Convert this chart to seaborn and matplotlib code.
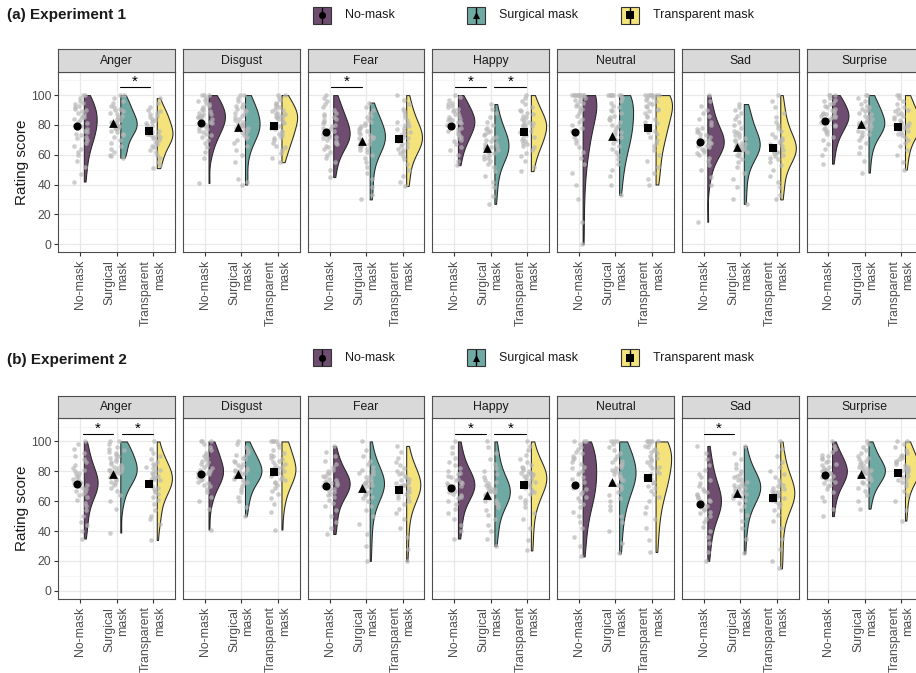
import numpy as np
import pandas as pd
import matplotlib
matplotlib.use("Agg")
import matplotlib.pyplot as plt
import matplotlib.transforms as mtransforms
from matplotlib.patches import Rectangle
import seaborn as sns

sns.set_theme(style="white")
plt.rcParams["font.family"] = ["Liberation Sans", "DejaVu Sans"]

# ---------------------------------------------------------------- categories
conditions = ["No-mask", "Surgical mask", "Transparent mask"]
tick_labels = ["No-mask", "Surgical\nmask", "Transparent\nmask"]
emotions = ["Anger", "Disgust", "Fear", "Happy", "Neutral", "Sad", "Surprise"]
palette = {"No-mask": "#6E4D70", "Surgical mask": "#6FA9A3", "Transparent mask": "#F4E37A"}
markers = ["o", "^", "s"]
marker_sizes = [34, 40, 30]

# ---------------------------------------------------------------- Experiment 1 ratings
exp1_anger = {
    "No-mask": [42, 47, 52, 56, 60, 62, 64, 66, 68, 70, 71, 72, 73, 74, 75, 76, 77, 78, 79, 80,
                81, 82, 83, 84, 85, 85, 86, 87, 88, 89, 90, 91, 92, 93, 94, 95, 96, 98, 100, 100],
    "Surgical mask": [58, 59, 60, 62, 64, 66, 68, 70, 72, 73, 74, 75, 76, 77, 78, 78, 79, 79, 80, 80,
                      81, 81, 82, 82, 83, 84, 85, 86, 87, 88, 89, 90, 91, 92, 93, 95, 96, 98, 100, 100],
    "Transparent mask": [51, 53, 55, 58, 60, 62, 63, 65, 66, 67, 68, 69, 70, 71, 72, 72, 73, 73, 74, 74,
                         75, 75, 76, 77, 78, 79, 80, 81, 82, 83, 84, 85, 86, 87, 88, 89, 90, 92, 95, 98],
}
exp1_disgust = {
    "No-mask": [41, 58, 62, 65, 68, 70, 72, 73, 74, 75, 76, 77, 78, 79, 80, 81, 82, 83, 84, 84,
                85, 85, 86, 86, 87, 87, 88, 89, 90, 91, 92, 93, 94, 95, 96, 97, 98, 100, 100, 100],
    "Surgical mask": [40, 42, 44, 55, 60, 63, 66, 68, 70, 71, 72, 73, 74, 75, 76, 77, 78, 78, 79, 79,
                      80, 80, 81, 82, 83, 84, 85, 86, 87, 88, 89, 90, 91, 92, 93, 94, 96, 98, 100, 100],
    "Transparent mask": [55, 58, 61, 63, 65, 66, 68, 70, 71, 72, 73, 74, 75, 76, 77, 78, 79, 80, 81, 82,
                         83, 84, 85, 85, 86, 86, 87, 87, 88, 89, 90, 91, 92, 93, 94, 95, 97, 98, 100, 100],
}
exp1_fear = {
    "No-mask": [45, 50, 55, 58, 60, 62, 64, 65, 66, 67, 68, 69, 70, 71, 72, 72, 73, 73, 74, 74,
                75, 76, 77, 78, 79, 80, 81, 82, 83, 84, 85, 86, 87, 88, 90, 92, 94, 96, 98, 100],
    "Surgical mask": [30, 33, 38, 44, 48, 52, 55, 58, 60, 62, 63, 64, 65, 66, 67, 68, 69, 70, 70, 71,
                      71, 72, 72, 73, 74, 75, 76, 77, 78, 79, 80, 81, 82, 83, 85, 86, 88, 90, 92, 95],
    "Transparent mask": [39, 42, 46, 50, 54, 57, 59, 61, 62, 63, 64, 65, 66, 67, 68, 69, 70, 70, 71, 71,
                         72, 72, 73, 74, 75, 76, 77, 78, 79, 80, 81, 82, 83, 85, 87, 89, 91, 94, 97, 100],
}
exp1_happy = {
    "No-mask": [53, 56, 60, 63, 65, 67, 69, 70, 71, 72, 73, 74, 75, 76, 77, 78, 79, 80, 80, 81,
                82, 82, 83, 83, 84, 84, 85, 86, 87, 88, 89, 90, 91, 92, 93, 94, 95, 97, 99, 100],
    "Surgical mask": [27, 32, 38, 42, 46, 49, 52, 54, 56, 57, 58, 59, 60, 61, 62, 63, 64, 64, 65, 65,
                      66, 66, 67, 68, 69, 70, 71, 72, 73, 74, 75, 76, 77, 78, 80, 82, 85, 88, 91, 94],
    "Transparent mask": [49, 52, 56, 59, 61, 63, 65, 66, 67, 68, 69, 70, 71, 72, 73, 74, 75, 76, 77, 78,
                         79, 79, 80, 80, 81, 81, 82, 83, 84, 85, 86, 87, 88, 89, 90, 92, 94, 96, 98, 100],
}
exp1_neutral = {
    "No-mask": [0, 15, 30, 40, 48, 54, 58, 62, 65, 68, 70, 72, 74, 76, 78, 80, 82, 84, 86, 88,
                90, 91, 92, 93, 94, 95, 96, 97, 98, 99, 100, 100, 100, 100, 100, 100, 100, 100, 100, 100],
    "Surgical mask": [33, 40, 46, 50, 54, 57, 60, 62, 64, 66, 68, 70, 71, 72, 74, 75, 76, 78, 79, 80,
                      82, 83, 84, 85, 86, 88, 89, 90, 92, 93, 95, 96, 98, 100, 100, 100, 100, 100, 100, 100],
    "Transparent mask": [40, 44, 48, 52, 56, 60, 63, 66, 68, 70, 72, 74, 75, 76, 78, 80, 81, 82, 84, 85,
                         86, 88, 89, 90, 91, 92, 93, 94, 95, 96, 97, 98, 99, 100, 100, 100, 100, 100, 100, 100],
}
exp1_sad = {
    "No-mask": [15, 40, 45, 50, 53, 56, 58, 60, 61, 62, 63, 64, 65, 66, 66, 67, 67, 68, 68, 69,
                69, 70, 70, 71, 72, 73, 74, 75, 76, 77, 78, 80, 82, 84, 86, 88, 90, 93, 96, 100],
    "Surgical mask": [27, 30, 38, 44, 48, 52, 55, 57, 59, 60, 61, 62, 63, 64, 64, 65, 65, 66, 66, 67,
                      67, 68, 69, 70, 71, 72, 73, 74, 75, 76, 78, 80, 82, 84, 86, 88, 90, 92, 94],
    "Transparent mask": [30, 33, 38, 42, 46, 50, 53, 55, 57, 58, 59, 60, 61, 62, 62, 63, 63, 64, 64, 65,
                         65, 66, 67, 68, 69, 70, 71, 72, 74, 76, 78, 80, 82, 85, 88, 92, 96, 100],
}
exp1_surprise = {
    "No-mask": [54, 60, 64, 67, 70, 72, 74, 75, 76, 77, 78, 79, 80, 81, 82, 83, 84, 84, 85, 85,
                86, 86, 87, 87, 88, 88, 89, 90, 91, 92, 93, 94, 95, 96, 97, 98, 100, 100, 100],
    "Surgical mask": [48, 56, 61, 65, 68, 70, 72, 73, 74, 75, 76, 77, 78, 79, 79, 80, 80, 81, 81, 82,
                      82, 83, 84, 85, 86, 87, 88, 89, 90, 91, 92, 93, 94, 96, 98, 100, 100],
    "Transparent mask": [50, 55, 60, 63, 66, 68, 70, 72, 73, 74, 75, 76, 77, 78, 78, 79, 79, 80, 80, 81,
                         81, 82, 83, 84, 85, 86, 87, 88, 89, 90, 91, 92, 94, 96, 98, 100, 100],
}

# ---------------------------------------------------------------- Experiment 2 ratings
exp2_anger = {
    "No-mask": [35, 40, 44, 46, 50, 54, 57, 59, 61, 63, 64, 65, 66, 67, 68, 69, 70, 71, 71, 72,
                72, 73, 73, 74, 75, 76, 77, 78, 79, 80, 81, 82, 84, 86, 88, 90, 92, 95, 98, 100],
    "Surgical mask": [39, 55, 60, 64, 67, 69, 71, 72, 73, 74, 75, 76, 77, 78, 79, 79, 80, 80, 81, 81,
                      82, 82, 83, 84, 85, 86, 87, 88, 89, 90, 91, 92, 93, 94, 95, 96, 98, 100, 100],
    "Transparent mask": [34, 45, 48, 50, 54, 58, 61, 63, 65, 66, 67, 68, 69, 70, 71, 72, 73, 74, 74, 75,
                         75, 76, 76, 77, 78, 79, 80, 81, 82, 83, 84, 85, 86, 88, 90, 92, 95, 100],
}
exp2_disgust = {
    "No-mask": [41, 55, 60, 63, 66, 68, 70, 71, 72, 73, 74, 75, 76, 77, 78, 78, 79, 79, 80, 80,
                81, 82, 83, 84, 85, 86, 87, 88, 89, 90, 91, 92, 94, 96, 98, 100, 100, 100],
    "Surgical mask": [50, 56, 60, 63, 66, 68, 70, 72, 73, 74, 75, 76, 77, 78, 78, 79, 79, 80, 80, 81,
                      81, 82, 83, 84, 85, 86, 87, 88, 89, 90, 91, 92, 94, 96, 98, 100],
    "Transparent mask": [41, 53, 58, 62, 65, 67, 69, 71, 72, 73, 74, 75, 76, 77, 78, 79, 80, 80, 81, 81,
                         82, 82, 83, 84, 85, 86, 87, 88, 89, 90, 91, 92, 94, 96, 98, 100, 100, 100, 100],
}
exp2_fear = {
    "No-mask": [38, 42, 46, 50, 54, 57, 59, 61, 63, 64, 65, 66, 67, 68, 69, 70, 70, 71, 71, 72,
                72, 73, 73, 74, 75, 76, 77, 78, 79, 80, 81, 83, 85, 87, 90, 93, 97],
    "Surgical mask": [20, 30, 38, 45, 50, 54, 57, 60, 62, 63, 64, 65, 66, 67, 68, 69, 70, 71, 71, 72,
                      72, 73, 73, 74, 75, 76, 77, 78, 79, 80, 81, 83, 85, 87, 90, 94, 100],
    "Transparent mask": [20, 28, 36, 42, 48, 52, 55, 58, 60, 62, 63, 64, 65, 66, 67, 68, 69, 70, 70, 71,
                         71, 72, 72, 73, 74, 75, 76, 77, 78, 79, 80, 82, 84, 86, 89, 93, 97],
}
exp2_happy = {
    "No-mask": [35, 40, 44, 48, 52, 55, 58, 60, 62, 63, 64, 65, 66, 67, 68, 69, 70, 70, 71, 71,
                72, 72, 73, 74, 75, 76, 77, 78, 79, 80, 82, 84, 86, 89, 92, 96, 100],
    "Surgical mask": [30, 35, 40, 44, 48, 51, 54, 56, 58, 59, 60, 61, 62, 63, 64, 65, 66, 66, 67, 67,
                      68, 68, 69, 70, 71, 72, 73, 74, 76, 78, 80, 82, 85, 88, 92, 96, 100],
    "Transparent mask": [27, 34, 42, 48, 52, 56, 59, 61, 63, 65, 66, 67, 68, 69, 70, 71, 72, 73, 74, 75,
                         76, 77, 77, 78, 78, 79, 79, 80, 81, 82, 83, 84, 86, 88, 91, 94, 97, 100],
}
exp2_neutral = {
    "No-mask": [23, 30, 36, 42, 46, 50, 53, 56, 58, 60, 62, 63, 65, 66, 68, 69, 70, 72, 73, 75,
                76, 78, 79, 80, 82, 83, 85, 86, 88, 89, 90, 92, 93, 95, 96, 98, 100, 100, 100],
    "Surgical mask": [25, 32, 40, 46, 50, 54, 57, 60, 62, 64, 66, 68, 70, 71, 72, 73, 74, 75, 76, 77,
                      78, 79, 80, 81, 82, 83, 84, 85, 86, 87, 88, 90, 92, 94, 96, 98, 100, 100, 100],
    "Transparent mask": [26, 34, 42, 48, 52, 56, 60, 63, 65, 67, 69, 70, 72, 73, 75, 76, 78, 79, 80, 82,
                         83, 84, 86, 87, 88, 89, 90, 92, 93, 94, 95, 96, 97, 98, 100, 100, 100, 100, 100],
}
exp2_sad = {
    "No-mask": [20, 26, 32, 36, 40, 43, 46, 48, 50, 52, 53, 54, 55, 56, 57, 58, 59, 60, 60, 61,
                62, 63, 64, 65, 66, 67, 68, 70, 72, 74, 76, 78, 81, 84, 88, 92, 97],
    "Surgical mask": [25, 35, 42, 47, 51, 54, 57, 59, 61, 62, 63, 64, 65, 66, 67, 68, 69, 69, 70, 70,
                      71, 72, 73, 74, 75, 76, 77, 78, 80, 82, 85, 88, 92, 97],
    "Transparent mask": [15, 20, 28, 35, 42, 47, 51, 54, 56, 58, 59, 60, 61, 62, 63, 64, 64, 65, 65, 66,
                         66, 67, 68, 69, 70, 71, 72, 74, 76, 78, 80, 83, 86, 90, 95, 100],
}
exp2_surprise = {
    "No-mask": [50, 55, 60, 63, 66, 68, 70, 71, 72, 73, 74, 75, 76, 77, 78, 79, 79, 80, 80, 81,
                81, 82, 83, 84, 85, 86, 87, 88, 89, 90, 91, 93, 95, 97, 100],
    "Surgical mask": [55, 60, 64, 67, 69, 71, 72, 73, 74, 75, 76, 77, 78, 79, 79, 80, 80, 81, 81, 82,
                      82, 83, 84, 85, 86, 87, 88, 89, 90, 92, 94, 96, 98, 100],
    "Transparent mask": [47, 54, 60, 64, 67, 70, 72, 73, 74, 75, 76, 77, 78, 79, 80, 80, 81, 81, 82, 82,
                         83, 84, 85, 86, 87, 88, 89, 90, 91, 92, 94, 96, 98, 100, 100],
}

# ---------------------------------------------------------------- condition means
exp1_means = {
    "Anger": [79, 81, 76], "Disgust": [81.5, 78.6, 79.3], "Fear": [75, 69, 70.4],
    "Happy": [79, 64.6, 75], "Neutral": [75, 72.6, 78], "Sad": [68.6, 65, 64.6],
    "Surprise": [82.4, 80.4, 78.6],
}
exp2_means = {
    "Anger": [71.8, 78.5, 71.8], "Disgust": [78.5, 78, 79.6], "Fear": [70, 68.5, 67.8],
    "Happy": [69, 64.4, 70.7], "Neutral": [70.7, 72.9, 75.5], "Sad": [58, 65.8, 61.8],
    "Surprise": [77.3, 78.5, 79],
}

# ---------------------------------------------------------------- significant pairs (x start, x end)
exp1_signif = {"Anger": [(1.08, 1.92)], "Fear": [(0.05, 0.9)], "Happy": [(0.03, 0.87), (1.1, 1.97)]}
exp2_signif = {"Anger": [(0.08, 0.89), (1.16, 2.0)], "Happy": [(0.03, 0.87), (1.1, 1.97)],
               "Sad": [(0.0, 0.84)]}

exp1_data = [exp1_anger, exp1_disgust, exp1_fear, exp1_happy, exp1_neutral, exp1_sad, exp1_surprise]
exp2_data = [exp2_anger, exp2_disgust, exp2_fear, exp2_happy, exp2_neutral, exp2_sad, exp2_surprise]

# ---------------------------------------------------------------- figure layout (pixels)
W, H = 916, 673
fig = plt.figure(figsize=(W / 100, H / 100), dpi=100)
fig.patch.set_facecolor("white")

PANEL_LEFT0, PANEL_STEP, PANEL_W = 58.3, 124.7, 116.7
ROW_SIGN = 105.3
BORDER = "#4d4d4d"


def px_axes(left, top, width, height, **kw):
    return fig.add_axes([left / W, 1 - (top + height) / H, width / W, height / H], **kw)


def draw_panel(ax, groups, means, brackets, first):
    df = pd.DataFrame([(c, v) for c in conditions for v in groups[c]], columns=["condition", "score"])
    df["side"] = "R"

    n0 = len(ax.collections)
    sns.violinplot(data=df, x="condition", y="score", order=conditions,
                   hue="side", hue_order=["L", "R"], split=True, dodge=True,
                   inner=None, cut=0, density_norm="area", bw_method="silverman",
                   width=0.9, linewidth=0.75, linecolor="#262626",
                   palette={"L": "white", "R": "white"}, saturation=1,
                   legend=False, ax=ax)
    # half violins sit just right of each category, coloured by condition
    shift = mtransforms.Affine2D().translate(0.1, 0) + ax.transData
    for coll in ax.collections[n0:]:
        verts = coll.get_paths()[0].vertices
        idx = int(round(np.nanmin(verts[:, 0])))
        coll.set_facecolor(palette[conditions[min(max(idx, 0), 2)]])
        coll.set_transform(shift)
        coll.set_zorder(2)

    sns.stripplot(data=df, x="condition", y="score", order=conditions,
                  color="#b8b8b8", alpha=0.7, size=3.3, jitter=0.2,
                  linewidth=0, ax=ax, zorder=3)

    for i, m in enumerate(means):
        ax.scatter([i - 0.1], [m], marker=markers[i], s=marker_sizes[i],
                   color="black", linewidths=0, zorder=4)

    for x0, x1 in brackets:
        ax.plot([x0, x1], [ROW_SIGN, ROW_SIGN], color="black", lw=0.8, zorder=5)
        ax.text((x0 + x1) / 2, ROW_SIGN - 1.2, "*", ha="center", va="bottom",
                fontsize=11, color="black", zorder=5)

    ax.set_xlim(-0.6, 2.6)
    ax.set_ylim(-5.5, 115.5)
    ax.set_xlabel("")
    ax.set_ylabel("")
    ax.set_yticks(range(0, 101, 20))
    ax.set_yticks(range(10, 111, 20), minor=True)
    ax.set_xticks([0, 1, 2])
    ax.set_xticklabels(tick_labels, rotation=90, ha="center", va="top", ma="right")
    ax.set_axisbelow(True)
    ax.grid(which="major", color="#e8e8e8", lw=0.9)
    ax.grid(which="minor", axis="y", color="#f2f2f2", lw=0.5)
    ax.tick_params(axis="x", length=3, width=0.8, color="#333333", labelsize=8.8,
                   labelcolor="#4d4d4d", pad=2.5, bottom=True)
    ax.tick_params(axis="y", which="minor", length=0, left=False)
    if first:
        ax.tick_params(axis="y", which="major", length=3, width=0.8, color="#333333",
                       labelsize=8.8, labelcolor="#4d4d4d", pad=2, left=True)
    else:
        ax.tick_params(axis="y", which="major", length=0, labelleft=False, left=False)
    for s in ax.spines.values():
        s.set_visible(True)
        s.set_color(BORDER)
        s.set_linewidth(0.8)
    ax.set_facecolor("white")


rows = [
    dict(title="(a) Experiment 1", data=exp1_data, means=exp1_means, signif=exp1_signif,
         strip_top=49.3, panel_top=72.0, panel_bottom=252.3, title_y=15.0, legend_y=15.3),
    dict(title="(b) Experiment 2", data=exp2_data, means=exp2_means, signif=exp2_signif,
         strip_top=396.0, panel_top=418.3, panel_bottom=599.0, title_y=360.0, legend_y=357.7),
]

for row in rows:
    for i, emo in enumerate(emotions):
        left = PANEL_LEFT0 + i * PANEL_STEP
        ax = px_axes(left, row["panel_top"], PANEL_W, row["panel_bottom"] - row["panel_top"])
        draw_panel(ax, row["data"][i], row["means"][emo], row["signif"].get(emo, []), i == 0)

        sax = px_axes(left, row["strip_top"], PANEL_W, row["panel_top"] - row["strip_top"])
        sax.set_facecolor("#d9d9d9")
        sax.set_xticks([])
        sax.set_yticks([])
        for s in sax.spines.values():
            s.set_visible(True)
            s.set_color(BORDER)
            s.set_linewidth(0.8)
        sax.text(0.5, 0.5, emo, transform=sax.transAxes, ha="center", va="center",
                 fontsize=8.8, color="#1a1a1a")

# ---------------------------------------------------------------- titles, axis titles, legends
ov = fig.add_axes([0, 0, 1, 1], zorder=10)
ov.set_xlim(0, W)
ov.set_ylim(H, 0)
ov.axis("off")

legend_box_x = [313.0, 467.3, 621.0]
legend_text_x = [345.5, 499.3, 652.7]
for row in rows:
    ov.text(7, row["title_y"], row["title"], fontsize=11, fontweight="bold",
            ha="left", va="center", color="#1a1a1a")
    ov.text(22, (row["panel_top"] + row["panel_bottom"]) / 2, "Rating score", rotation=90,
            fontsize=11, ha="center", va="center", color="#1a1a1a")
    ly = row["legend_y"]
    for k, c in enumerate(conditions):
        bx = legend_box_x[k]
        ov.add_patch(Rectangle((bx, ly - 8.5), 17.5, 17, facecolor=palette[c],
                               edgecolor="#333333", lw=0.8))
        ov.plot([bx + 8.75, bx + 8.75], [ly - 7.5, ly + 7.5], color="black", lw=1.0)
        ov.scatter([bx + 8.75], [ly], marker=markers[k], s=26, color="black", linewidths=0)
        ov.text(legend_text_x[k], ly, c, fontsize=9, ha="left", va="center", color="#1a1a1a")

fig.savefig("out.png", dpi=100, facecolor="white")
